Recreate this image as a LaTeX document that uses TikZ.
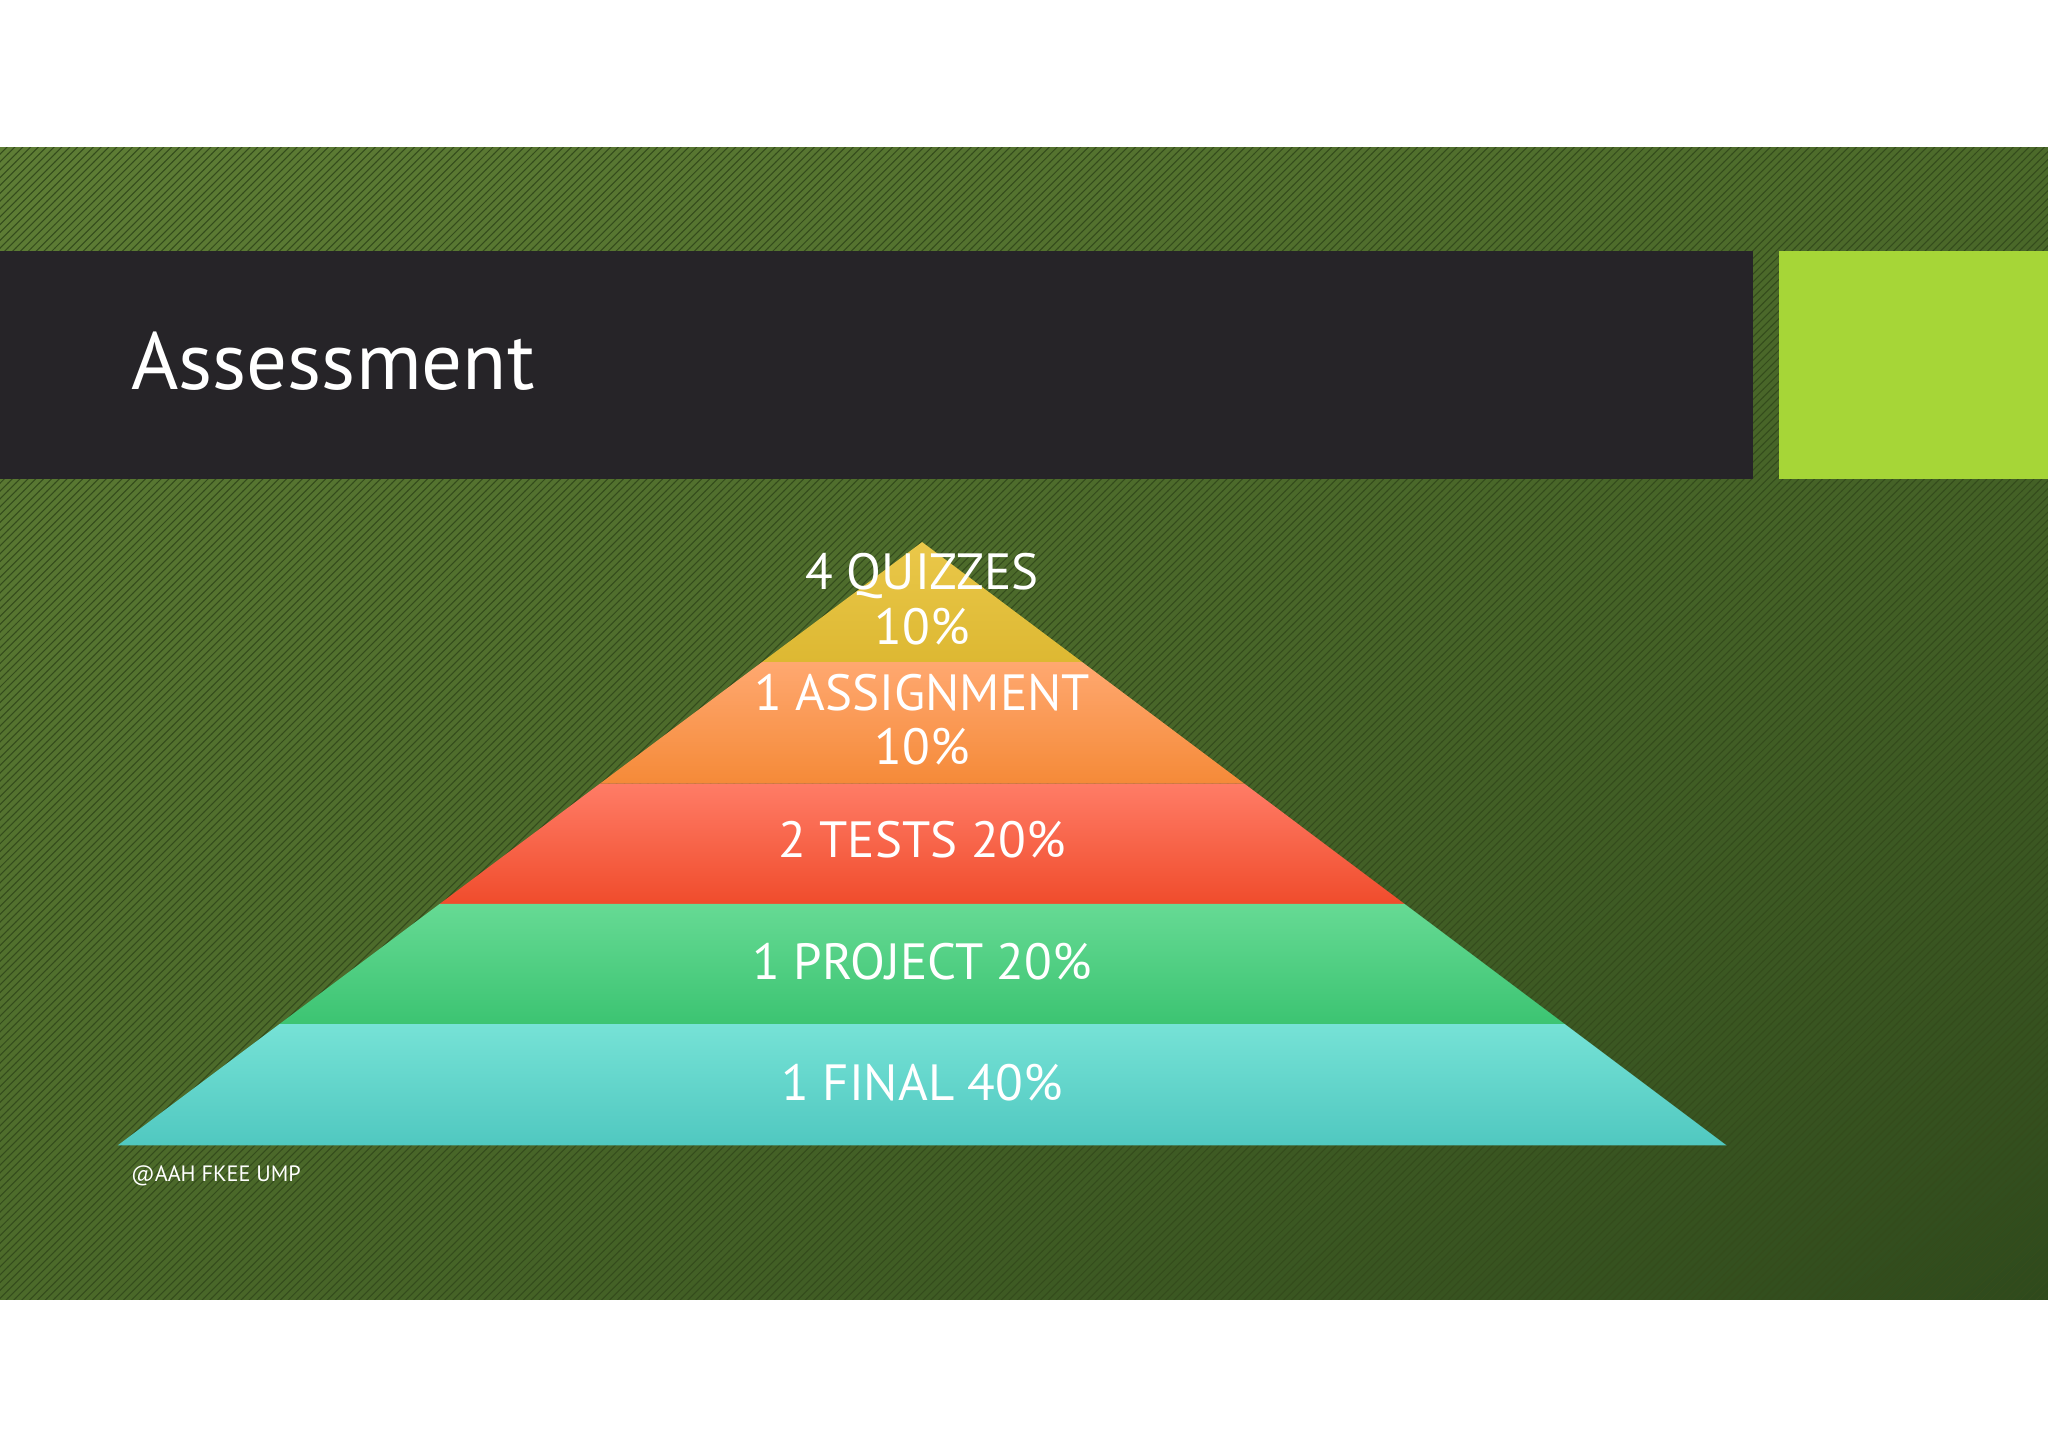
\documentclass[tikz,border=0pt]{standalone}
\usepackage{fontspec}
\setmainfont{PT Sans}
\usetikzlibrary{patterns,shadings}
\definecolor{bgA}{HTML}{5E7D35}
\definecolor{bgB}{HTML}{4C6A2A}
\definecolor{bgC}{HTML}{2F4A1C}
\definecolor{hatch}{HTML}{344C1C}
\definecolor{barbk}{HTML}{262428}
\definecolor{lime}{HTML}{A6D637}
\begin{document}
\begin{tikzpicture}[x=0.5pt,y=-0.5pt,
  lay/.style={text=white,font=\fontsize{19.5}{21}\selectfont,align=center,inner sep=0pt}]
\useasboundingbox (0,0) rectangle (1568,1108);
\fill[white] (0,0) rectangle (1568,1108);
\shade[upper left=bgA, upper right=bgB, lower left=bgB, lower right=bgC]
  (0,113) rectangle (1568,995);
\path[pattern=north east lines,pattern color=hatch] (0,113) rectangle (1568,995);
\fill[barbk] (0,192) rectangle (1342,367);
\fill[lime] (1362,192) rectangle (1568,367);
\node[anchor=base west,text=white,font=\fontsize{31}{33}\selectfont,inner sep=0pt] (title) at (100,298) {Assessment};
\definecolor{y1}{HTML}{EAC84A}\definecolor{y2}{HTML}{DDB832}
\definecolor{o1}{HTML}{FFA870}\definecolor{o2}{HTML}{F58A38}
\definecolor{r1}{HTML}{FF7C66}\definecolor{r2}{HTML}{F04C2C}
\definecolor{g1}{HTML}{66DA94}\definecolor{g2}{HTML}{3CC472}
\definecolor{t1}{HTML}{76E2D6}\definecolor{t2}{HTML}{50C8C0}
\shade[top color=y1,bottom color=y2] (706,415) -- (828.7,507) -- (583.3,507) -- cycle;
\shade[top color=o1,bottom color=o2] (583.3,507) -- (828.7,507) -- (952.7,600) -- (459.3,600) -- cycle;
\shade[top color=r1,bottom color=r2] (459.3,600) -- (952.7,600) -- (1075.3,692) -- (336.7,692) -- cycle;
\shade[top color=g1,bottom color=g2] (336.7,692) -- (1075.3,692) -- (1198,784) -- (214,784) -- cycle;
\shade[top color=t1,bottom color=t2] (214,784) -- (1198,784) -- (1322,877) -- (90,877) -- cycle;
\node[lay] (q) at (706,459) {4 QUIZZES\\10\%};
\node[lay] (a) at (706,551) {1 ASSIGNMENT\\10\%};
\node[lay] (t) at (706,643) {2 TESTS 20\%};
\node[lay] (p) at (706,736) {1 PROJECT 20\%};
\node[lay] (f) at (706,829) {1 FINAL 40\%};
\node[anchor=west,text=white,font=\fontsize{8.5}{10}\selectfont,inner sep=0pt] (foot) at (100,900) {@AAH FKEE UMP};
\end{tikzpicture}
\end{document}
